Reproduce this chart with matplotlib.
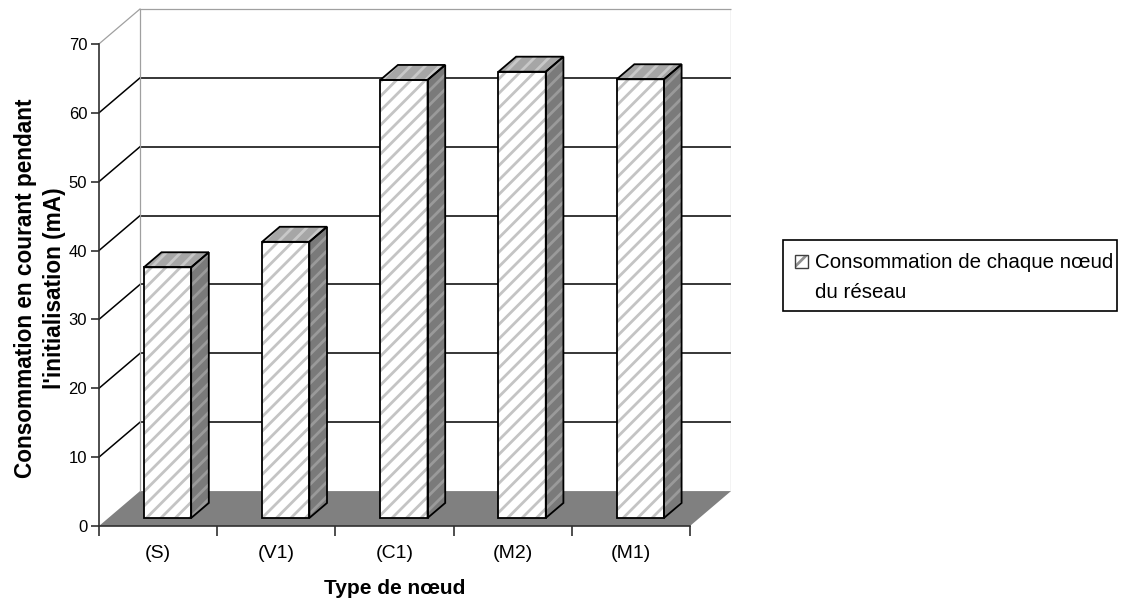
import matplotlib
matplotlib.use("Agg")
import matplotlib.pyplot as plt
from matplotlib.patches import Polygon, Rectangle

# ---- data ----
categories = ['(S)', '(V1)', '(C1)', '(M2)', '(M1)']
values = [36.4, 40.1, 63.6, 64.8, 63.7]
yticks = [0, 10, 20, 30, 40, 50, 60, 70]
series_line1 = 'Consommation de chaque nœud'
series_line2 = 'du réseau'
xlabel = 'Type de nœud'
ylabel = "Consommation en courant pendant\nl'initialisation (mA)"

DPI = 130
K = 100 / DPI          # sizes below are expressed as if at 100 dpi

plt.rcParams['font.family'] = ['Liberation Sans', 'DejaVu Sans']
plt.rcParams['hatch.linewidth'] = 2.0 * K

# ---- 3D-like geometry (in data units) ----
DX = 0.347   # depth offset along x (category units)
DY = 5.07    # depth offset along y (value units)
F0, F1 = 0.23, 0.66   # bar front/back depth fractions
W = 0.40     # bar width
YMAX = 70

W_PX, H_PX = 1125, 603
fig = plt.figure(figsize=(W_PX / DPI, H_PX / DPI), dpi=DPI)
ax = fig.add_axes([99 / W_PX, 77 / H_PX, 632 / W_PX, 517 / H_PX])
n = len(categories)
ax.set_xlim(-0.5, n - 0.5 + DX)
ax.set_ylim(0, YMAX + DY)
ax.patch.set_visible(False)

xl, xr = -0.5, n - 0.5
grid_col = 'black'
wall_col = '#a0a0a0'

# floor
ax.add_patch(Polygon([(xl, 0), (xr, 0), (xr + DX, DY), (xl + DX, DY)],
                     closed=True, facecolor='#808080', edgecolor='none', zorder=1))

# back-wall gridlines and side-wall diagonals
for t in yticks[1:]:
    c = wall_col if t == YMAX else grid_col
    lw = (0.9 if t == YMAX else 1.1) * K
    ax.plot([xl + DX, xr + DX], [t + DY, t + DY], color=c, lw=lw, zorder=1,
            clip_on=False, solid_capstyle='butt')
    ax.plot([xl, xl + DX], [t, t + DY], color=c, lw=lw, zorder=1, clip_on=False)
# wall verticals
ax.plot([xl + DX, xl + DX], [DY, YMAX + DY], color=wall_col, lw=0.9 * K, zorder=1)
ax.plot([xr + DX, xr + DX], [DY, YMAX + DY], color=wall_col, lw=0.9 * K, zorder=1)

# bars
for i, v in enumerate(values):
    x0 = i - W / 2
    x1 = i + W / 2
    ax.bar(i + F0 * DX, v, width=W, bottom=F0 * DY, color='white',
           edgecolor='#c4c4c4', hatch='///', linewidth=0, zorder=3)
    ax.bar(i + F0 * DX, v, width=W, bottom=F0 * DY, fill=False,
           edgecolor='black', linewidth=1.3 * K, zorder=4)
    top = [(x0 + F0 * DX, v + F0 * DY), (x1 + F0 * DX, v + F0 * DY),
           (x1 + F1 * DX, v + F1 * DY), (x0 + F1 * DX, v + F1 * DY)]
    side = [(x1 + F0 * DX, F0 * DY), (x1 + F1 * DX, F1 * DY),
            (x1 + F1 * DX, v + F1 * DY), (x1 + F0 * DX, v + F0 * DY)]
    ax.add_patch(Polygon(top, closed=True, facecolor='#a6a6a6', edgecolor='#c8c8c8',
                         hatch='///', linewidth=0, zorder=3))
    ax.add_patch(Polygon(top, closed=True, fill=False, edgecolor='black',
                         linewidth=1.3 * K, zorder=4))
    ax.add_patch(Polygon(side, closed=True, facecolor='#7a7a7a', edgecolor='#9a9a9a',
                         hatch='///', linewidth=0, zorder=3))
    ax.add_patch(Polygon(side, closed=True, fill=False, edgecolor='black',
                         linewidth=1.3 * K, zorder=4))

# axes, ticks, labels
for s in ['top', 'right']:
    ax.spines[s].set_visible(False)
ax.spines['left'].set_bounds(0, YMAX)
ax.spines['bottom'].set_bounds(xl, xr)
for s in ['left', 'bottom']:
    ax.spines[s].set_color('#303030')
    ax.spines[s].set_linewidth(1.2 * K)
    ax.spines[s].set_zorder(5)

ax.set_yticks(yticks)
ax.set_yticklabels([str(t) for t in yticks], fontsize=12 * K)
ax.tick_params(axis='y', length=6 * K, width=1.2 * K, color='#303030', pad=2.5 * K)

ax.set_xticks([k - 0.5 for k in range(n + 1)])
ax.set_xticklabels([])
ax.set_xticks(list(range(n)), minor=True)
ax.set_xticklabels(categories, minor=True, fontsize=14 * K)
ax.tick_params(axis='x', which='major', length=7 * K, width=1.2 * K, color='#303030')
ax.tick_params(axis='x', which='minor', length=0, pad=14 * K)

fig.text(395 / W_PX, 1 - 588 / H_PX, xlabel, fontsize=15 * K, fontweight='bold',
         ha='center', va='center')
fig.text(40 / W_PX, 1 - 288 / H_PX, ylabel, fontsize=16.3 * K, fontweight='bold',
         rotation=90, ha='center', va='center', multialignment='center',
         linespacing=1.3)

# legend box (drawn in figure pixel fractions)
def fx(px):
    return px / W_PX

def fy(py):
    return 1 - py / H_PX

fig.add_artist(Rectangle((fx(783), fy(311)), fx(1117) - fx(783), fy(240) - fy(311),
                         transform=fig.transFigure, facecolor='white',
                         edgecolor='black', linewidth=1.2 * K))
fig.add_artist(Rectangle((fx(795), fy(268)), fx(808) - fx(795), fy(255) - fy(268),
                         transform=fig.transFigure, facecolor='white',
                         edgecolor='#909090', hatch='//', linewidth=0))
fig.add_artist(Rectangle((fx(795), fy(268)), fx(808) - fx(795), fy(255) - fy(268),
                         transform=fig.transFigure, fill=False,
                         edgecolor='#404040', linewidth=1.0 * K))
fig.text(fx(815), fy(262), series_line1, fontsize=14.8 * K, ha='left', va='center')
fig.text(fx(815), fy(292), series_line2, fontsize=14.8 * K, ha='left', va='center')

fig.savefig('out.png', dpi=DPI)
